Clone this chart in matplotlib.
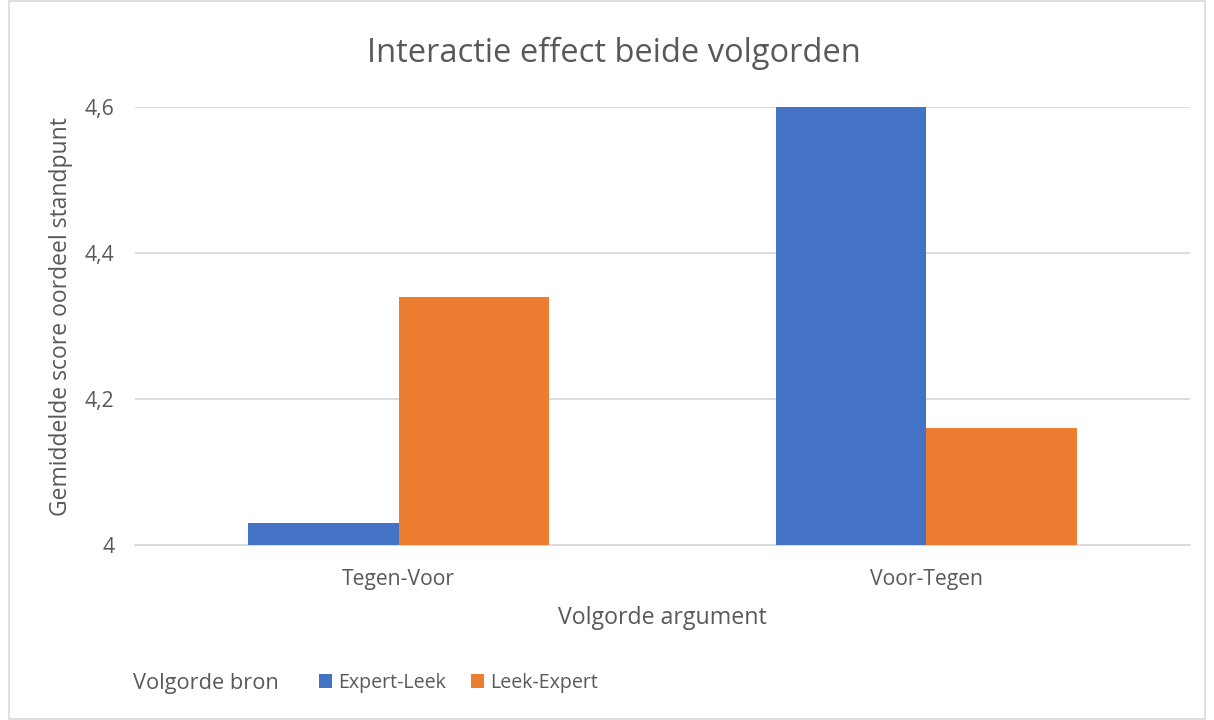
import numpy as np
import matplotlib.pyplot as plt
from matplotlib.ticker import FuncFormatter
from matplotlib.patches import Rectangle

plt.rcParams['font.family'] = ['Open Sans', 'DejaVu Sans']

# data
categories = ['Tegen-Voor', 'Voor-Tegen']
series_names = ['Expert-Leek', 'Leek-Expert']
expert_leek = [4.03, 4.6]
leek_expert = [4.34, 4.16]
colors = ['#4472C4', '#ED7D31']
text_color = '#595959'

fig = plt.figure(figsize=(12.14, 7.2), dpi=100)
ax = fig.add_axes([135 / 1214, 1 - 545 / 720, 1055 / 1214, 438 / 720])

x = np.arange(len(categories))
w = 0.285
b1 = ax.bar(x - w / 2, expert_leek, w, color=colors[0], label=series_names[0], zorder=3)
b2 = ax.bar(x + w / 2, leek_expert, w, color=colors[1], label=series_names[1], zorder=3)

ax.set_xlim(-0.5, 1.5)
ax.set_ylim(4, 4.6)
ax.set_yticks([4, 4.2, 4.4, 4.6])
ax.yaxis.set_major_formatter(FuncFormatter(lambda v, p: ('%g' % round(v, 1)).replace('.', ',')))
ax.set_xticks(x)
ax.set_xticklabels(categories)
ax.grid(axis='y', color='#D9D9D9', linewidth=1.3, zorder=0)
for s in ['top', 'right', 'left']:
    ax.spines[s].set_visible(False)
ax.spines['bottom'].set_color('#D9D9D9')
ax.spines['bottom'].set_linewidth(1.3)
ax.tick_params(length=0, labelsize=15.2, labelcolor=text_color)
ax.tick_params(axis='y', pad=15)
ax.tick_params(axis='x', pad=17)

ax.set_xlabel('Volgorde argument', fontsize=16.7, color=text_color, labelpad=12)
ax.set_ylabel('Gemiddelde score oordeel standpunt', fontsize=16.5, color=text_color)
ax.yaxis.set_label_coords(-62 / 1055, (545 - 317) / 438)
fig.text(0.506, 1 - 53 / 720, 'Interactie effect beide volgorden', fontsize=23.5,
         color=text_color, ha='center', va='center')

fig.text(133 / 1214, 1 - 683 / 720, 'Volgorde bron', fontsize=15.7, color=text_color,
         ha='left', va='center')
fig.legend(handles=[b1, b2], loc='center left', bbox_to_anchor=(319 / 1214, 1 - 683 / 720),
           ncol=2, frameon=False, fontsize=14.1, labelcolor=text_color,
           borderpad=0, borderaxespad=0,
           handlelength=0.67, handleheight=0.67, handletextpad=0.3, columnspacing=1.3)

# chart frame
fig.patches.append(Rectangle((9 / 1214, 0.002), 1 - 18 / 1214, 0.996, transform=fig.transFigure,
                             fill=False, edgecolor='#D9D9D9', linewidth=1.2))

fig.savefig('out.png', dpi=100)
